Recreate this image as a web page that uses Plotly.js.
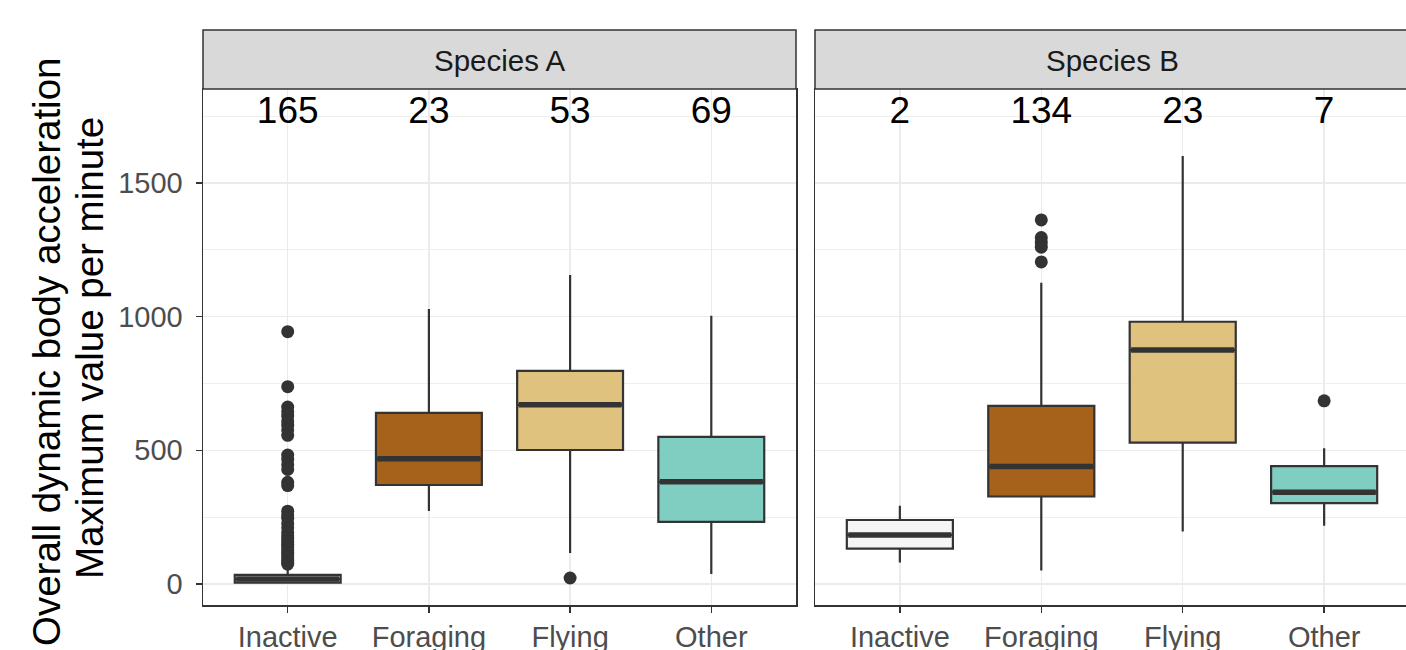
<!DOCTYPE html>
<html>
<head>
<meta charset="utf-8">
<script src="https://cdn.plot.ly/plotly-3.0.1.min.js"></script>
<style>html,body{margin:0;padding:0;background:#fff;overflow:hidden;}</style>
</head>
<body>
<div id="chart" style="width:1406px;height:650px;"></div>
<script>
// ---- Data ----
const categories = ["Inactive", "Foraging", "Flying", "Other"];
const species = ["Species A", "Species B"];
const fillColors = ["#F5F5F5", "#A6611A", "#DFC27D", "#80CDC1"];

// Species A box statistics
const aLower  = [9, 273, 116, 37];
const aQ1     = [5, 370, 501, 232];
const aMedian = [18, 468, 670, 382];
const aQ3     = [34, 640, 797, 550];
const aUpper  = [65, 1029, 1156, 1003];
const aCounts = [165, 23, 53, 69];

// Species B box statistics
const bLower  = [80, 50, 196, 218];
const bQ1     = [132, 327, 529, 302];
const bMedian = [183, 439, 875, 343];
const bQ3     = [239, 666, 981, 441];
const bUpper  = [292, 1127, 1601, 508];
const bCounts = [2, 134, 23, 7];

// Outliers (category index, value)
const aOutCat = [1,1,1,1,1,1,1,1,1,1,1,1,1,1,1,1,1,1,1,1,1,1,1,1,1,1,1,1,1,1,1,1,1,3];
const aOutVal = [944, 738, 662, 645, 628, 610, 594, 576, 556, 482, 466, 446, 428, 380, 368,
                 272, 258, 246, 226, 210, 192, 180, 168, 158, 148, 138, 128, 118, 108, 98, 88, 80, 74, 22];
const bOutCat = [2, 2, 2, 2, 2, 4];
const bOutVal = [1362, 1296, 1278, 1260, 1205, 685];

const countLabelY = 1761;
const boxWidth = 0.75;

// ---- Build traces ----
const traces = [];
function addPanel(lower, q1, med, q3, upper, counts, outCat, outVal, xa, ya) {
  for (let i = 0; i < categories.length; i++) {
    traces.push({
      type: "box", x: [i + 1], q1: [q1[i]], median: [med[i]], q3: [q3[i]],
      lowerfence: [lower[i]], upperfence: [upper[i]],
      width: boxWidth, whiskerwidth: 0, fillcolor: fillColors[i],
      line: {color: "#333333", width: 2.2}, boxpoints: false,
      xaxis: xa, yaxis: ya, showlegend: false, hoverinfo: "skip"
    });
    traces.push({
      type: "scatter", mode: "lines",
      x: [i + 1 - boxWidth / 2 + 0.01, i + 1 + boxWidth / 2 - 0.01], y: [med[i], med[i]],
      line: {color: "#333333", width: 5.5},
      xaxis: xa, yaxis: ya, showlegend: false, hoverinfo: "skip"
    });
  }
  traces.push({
    type: "scatter", mode: "markers", x: outCat, y: outVal,
    marker: {color: "#333333", size: 13},
    xaxis: xa, yaxis: ya, showlegend: false, hoverinfo: "skip"
  });
  traces.push({
    type: "scatter", mode: "text",
    x: categories.map((c, i) => i + 1), y: categories.map(() => countLabelY),
    text: counts.map(String), textposition: "middle center",
    textfont: {family: "Liberation Sans, Arial, sans-serif", size: 37, color: "#000000"},
    xaxis: xa, yaxis: ya, showlegend: false, hoverinfo: "skip"
  });
}
addPanel(aLower, aQ1, aMedian, aQ3, aUpper, aCounts, aOutCat, aOutVal, "x", "y");
addPanel(bLower, bQ1, bMedian, bQ3, bUpper, bCounts, bOutCat, bOutVal, "x2", "y2");

// ---- Layout ----
const W = 1406, H = 650;
const px = v => v / W;
const py = v => (H - v) / H;
const font = "Liberation Sans, Arial, sans-serif";
const yRange = [-79, 1852];

const xCommon = {
  tickvals: [1, 2, 3, 4], ticktext: categories,
  showgrid: true, gridcolor: "#EBEBEB", gridwidth: 1.5,
  zeroline: false, showline: true, linecolor: "#333333", linewidth: 1.5, mirror: true,
  ticks: "outside", ticklen: 6, tickwidth: 1.5, tickcolor: "#333333",
  tickfont: {family: font, size: 29, color: "#4D4D4D"}, automargin: false, fixedrange: true
};
const yCommon = {
  range: yRange, tick0: 0, dtick: 500,
  showgrid: true, gridcolor: "#EBEBEB", gridwidth: 1.5,
  minor: {dtick: 250, tick0: 0, showgrid: true, gridcolor: "#EBEBEB", gridwidth: 0.8, ticks: ""},
  zeroline: false, showline: true, linecolor: "#333333", linewidth: 1.5,
  automargin: false, fixedrange: true
};

const layout = {
  width: W, height: H, margin: {l: 0, r: 0, t: 0, b: 0},
  paper_bgcolor: "#FFFFFF", plot_bgcolor: "#FFFFFF",
  showlegend: false, hovermode: false,
  xaxis: Object.assign({}, xCommon, {domain: [px(203), px(796)], range: [0.4, 4.6], anchor: "y"}),
  xaxis2: Object.assign({}, xCommon, {domain: [px(815), 1], range: [0.4, 4.6 - 3 / 141.3], anchor: "y2", mirror: true}),
  yaxis: Object.assign({}, yCommon, {domain: [py(605), py(89)], anchor: "x", mirror: true,
    ticks: "outside", ticklen: 6, tickwidth: 1.5, tickcolor: "#333333", ticklabelstandoff: 7,
    tickfont: {family: font, size: 29, color: "#4D4D4D"}}),
  yaxis2: Object.assign({}, yCommon, {domain: [py(605), py(89)], anchor: "x2", matches: "y",
    showticklabels: false, ticks: "", mirror: false}),
  shapes: [
    {type: "rect", xref: "paper", yref: "paper", x0: px(203), x1: px(796), y0: py(89), y1: py(30),
     fillcolor: "#D9D9D9", line: {color: "#333333", width: 1.5}, layer: "above"},
    {type: "rect", xref: "paper", yref: "paper", x0: px(815), x1: px(1420), y0: py(89), y1: py(30),
     fillcolor: "#D9D9D9", line: {color: "#333333", width: 1.5}, layer: "above"}
  ],
  annotations: [
    {text: species[0], xref: "paper", yref: "paper", x: px(499.5), y: py(60),
     xanchor: "center", yanchor: "middle", showarrow: false,
     font: {family: font, size: 29.5, color: "#1A1A1A"}},
    {text: species[1], xref: "paper", yref: "paper", x: px(1112), y: py(60),
     xanchor: "center", yanchor: "middle", showarrow: false,
     font: {family: font, size: 29.5, color: "#1A1A1A"}},
    {text: "Overall dynamic body acceleration", xref: "paper", yref: "paper", x: px(46), y: py(352),
     xanchor: "center", yanchor: "middle", showarrow: false, textangle: -90,
     font: {family: font, size: 38.5, color: "#000000"}},
    {text: "Maximum value per minute", xref: "paper", yref: "paper", x: px(89), y: py(348),
     xanchor: "center", yanchor: "middle", showarrow: false, textangle: -90,
     font: {family: font, size: 38.5, color: "#000000"}}
  ]
};

Plotly.newPlot("chart", traces, layout, {staticPlot: true, displayModeBar: false});
</script>
</body>
</html>
